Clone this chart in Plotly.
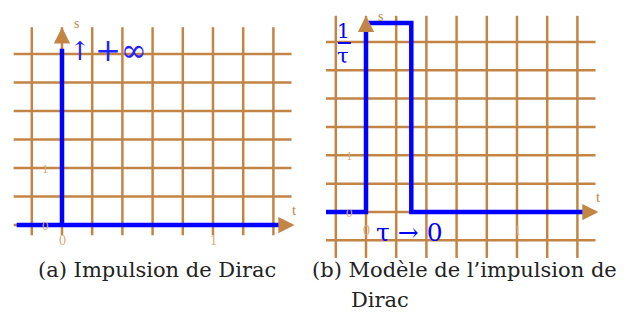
import plotly.graph_objects as go

# grid positions (data units)
grid_x = [-0.2, 0, 0.2, 0.4, 0.6, 0.8, 1.0, 1.2, 1.4]
grid_y_a = [0, 0.5, 1.0, 1.5, 2.0, 2.5, 3.0]
grid_y_b = [-0.5, 0, 0.5, 1.0, 1.5, 2.0, 2.5, 3.0]

# (a) Dirac impulse drawn as a spike
dirac_t = [-0.3, 0, 0, 0, 1.44]
dirac_s = [0, 0, 3.09, 0, 0]

# (b) rectangular model of width tau, height 1/tau
tau = 0.3
rect_t = [-0.3, 0, 0, tau, tau, 1.5]
rect_s = [0, 0, 1 / tau, 1 / tau, 0, 0]

ORANGE = "#c28546"
TICK = "#d6ab7e"
BLUE = "#0000ff"
SERIF = "Liberation Serif"
CAP = "DejaVu Serif"
OFF = 8  # page body margin in the browser

fig = go.Figure()


def add_grid(xa, ya, gy, x_lo, x_hi, y_lo, y_hi):
    xs, ys = [], []
    for g in grid_x:
        xs += [g, g, None]
        ys += [y_lo, y_hi, None]
    for g in gy:
        xs += [x_lo, x_hi, None]
        ys += [g, g, None]
    fig.add_trace(go.Scatter(x=xs, y=ys, mode="lines", xaxis=xa, yaxis=ya,
                             line=dict(color=ORANGE, width=2.5),
                             hoverinfo="skip", showlegend=False))


add_grid("x", "y", grid_y_a, -0.32, 1.52, -0.18, 3.47)
add_grid("x2", "y2", grid_y_b, -0.31, 1.52, -0.81, 3.46)

fig.add_trace(go.Scatter(x=dirac_t, y=dirac_s, mode="lines", xaxis="x", yaxis="y",
                         line=dict(color=BLUE, width=4.5), showlegend=False))
fig.add_trace(go.Scatter(x=rect_t, y=rect_s, mode="lines", xaxis="x2", yaxis="y2",
                         line=dict(color=BLUE, width=4.5), showlegend=False))
# fraction bar of 1/tau
fig.add_trace(go.Scatter(x=[-0.185, -0.1], y=[2.98, 2.98], mode="lines", xaxis="x2", yaxis="y2",
                         line=dict(color=BLUE, width=2), showlegend=False))

ann = []
# axis arrows
for xr, yr, ytip, xtip in [("x", "y", 3.47, 1.54), ("x2", "y2", 3.46, 1.54)]:
    ann.append(dict(x=0, y=ytip, ax=0, ay=3.2, xref=xr, yref=yr, axref=xr, ayref=yr,
                    showarrow=True, arrowhead=2, arrowsize=1.3, arrowwidth=2.5,
                    arrowcolor=ORANGE, text=""))
    ann.append(dict(x=xtip, y=0, ax=1.45, ay=0, xref=xr, yref=yr, axref=xr, ayref=yr,
                    showarrow=True, arrowhead=2, arrowsize=1.3, arrowwidth=2.5,
                    arrowcolor=ORANGE, text=""))


def label(xr, yr, x, y, txt, size=13, color=ORANGE, family=SERIF):
    ann.append(dict(x=x, y=y, xref=xr, yref=yr, text=txt, showarrow=False,
                    font=dict(family=family, size=size, color=color)))


for xr, yr, s_y, xlab_y in [("x", "y", 3.53, -0.28), ("x2", "y2", 3.44, -0.32)]:
    label(xr, yr, 0.093, s_y, "s", 14)
    label(xr, yr, 1.54, 0.27, "t", 15)
    label(xr, yr, -0.106, 0, "0", 13, TICK)
    label(xr, yr, -0.106, 1, "1", 13, TICK)
    label(xr, yr, 0, xlab_y, "0", 14, TICK)
    label(xr, yr, 1, xlab_y, "1", 14, TICK)

label("x", "y", 0.12, 3.05, "↑", 26, "#2222ff", "DejaVu Serif")
label("x", "y", 0.39, 3.07, "+∞", 31, "#2222ff", "DejaVu Serif")
label("x2", "y2", -0.15, 3.19, "1", 20, BLUE, "DejaVu Serif")
label("x2", "y2", -0.15, 2.75, "τ", 21, BLUE, "DejaVu Serif")
ann.append(dict(x=0.05, y=-0.36, xref="x2", yref="y2", xanchor="left", text="τ → 0",
                showarrow=False, font=dict(family="DejaVu Serif", size=25, color=BLUE)))

# captions
def caption(px, py, txt, anchor):
    ann.append(dict(x=(px - OFF) / 636, y=1 - (py - OFF) / 322, xref="paper", yref="paper",
                    xanchor=anchor, yanchor="middle", text=txt, showarrow=False,
                    font=dict(family=CAP, size=21, color="#222")))


caption(157, 270, "(a) Impulsion de Dirac", "center")
caption(310, 270, "(b) Modèle de l’impulsion de", "left")
caption(349, 300, "Dirac", "left")

ax_common = dict(visible=False, showgrid=False, zeroline=False, fixedrange=True)
x0a, y0a = 62 - OFF, 225 - OFF
x0b, y0b = 366 - OFF, 212 - OFF
fig.update_layout(
    width=636, height=322, margin=dict(l=0, r=0, t=0, b=0),
    paper_bgcolor="white", plot_bgcolor="white",
    xaxis=dict(domain=[0, 0.5], range=[-x0a / 151, (318 - x0a) / 151], **ax_common),
    yaxis=dict(domain=[0, 1], range=[-(322 - y0a) / 57, y0a / 57], **ax_common),
    xaxis2=dict(domain=[0.5, 1], range=[-(x0b - 318) / 151, (636 - x0b) / 151], **ax_common),
    yaxis2=dict(domain=[0, 1], range=[-(322 - y0b) / 56.7, y0b / 56.7], anchor="x2", **ax_common),
    annotations=ann,
)

fig.write_html("out.html")
